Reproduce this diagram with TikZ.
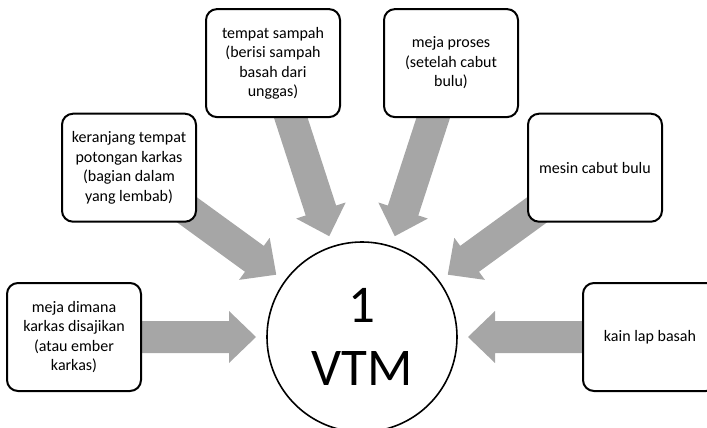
\documentclass[tikz,border=0pt]{standalone}
\usepackage{fontspec}
\setmainfont{Carlito}
\usetikzlibrary{calc}
\definecolor{arrowgray}{HTML}{A6A6A6}
\begin{document}
\begin{tikzpicture}[
  box/.style={draw=black, line width=2pt, rounded corners=11pt, fill=white,
    minimum width=134pt, minimum height=108pt, align=center, inner sep=0pt,
    font=\fontsize{16pt}{19.5pt}\selectfont},
  hub/.style={draw=black, line width=1.6pt, circle, minimum size=190pt, fill=white,
    inner sep=0pt, align=center, font=\fontsize{53pt}{63pt}\selectfont},
  blockarrow/.style={fill=arrowgray}
]
\useasboundingbox (0,0) rectangle (707pt,-428pt);
\clip (0,0) rectangle (707pt,-428pt);
\coordinate (C) at (362pt,-337pt);
\foreach \a in {0,36,...,180} {
  \fill[blockarrow, shift={(C)}, rotate=\a]
    (240pt,16pt) -- (133pt,16pt) -- (133pt,26pt) -- (106pt,0pt)
    -- (133pt,-26pt) -- (133pt,-16pt) -- (240pt,-16pt) -- cycle;
}
\node[hub] (c) at (C) {1\\VTM};
\node[box] (b1) at ($(C)+(180:288pt)$) {meja dimana\\karkas disajikan\\(atau ember\\karkas)};
\node[box] (b2) at ($(C)+(144:288pt)$) {keranjang tempat\\potongan karkas\\(bagian dalam\\yang lembab)};
\node[box] (b3) at ($(C)+(108:288pt)$) {tempat sampah\\(berisi sampah\\basah dari\\unggas)};
\node[box] (b4) at ($(C)+(72:288pt)$) {meja proses\\(setelah cabut\\bulu)};
\node[box] (b5) at ($(C)+(36:288pt)$) {mesin cabut bulu};
\node[box] (b6) at ($(C)+(0:288pt)$) {kain lap basah};
\end{tikzpicture}
\end{document}
